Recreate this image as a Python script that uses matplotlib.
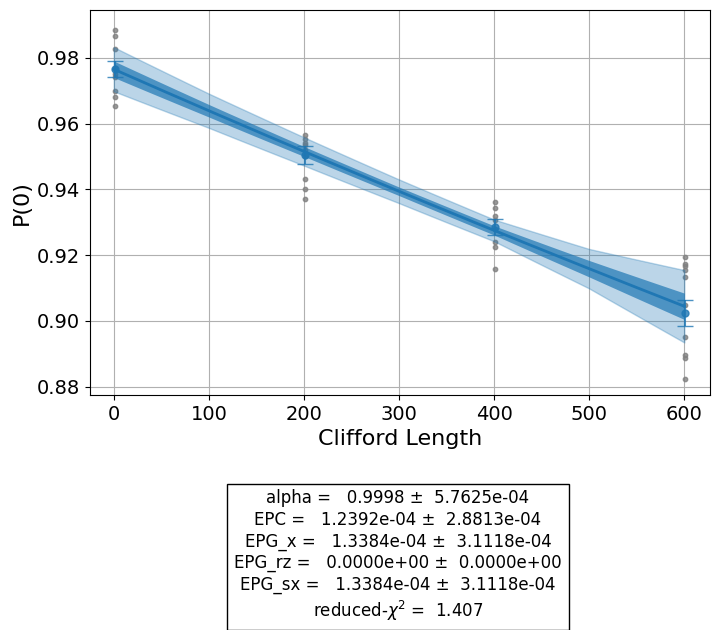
import numpy as np
import matplotlib
matplotlib.use("Agg")
import matplotlib.pyplot as plt

# raw samples
x0 = [1]*9; y0 = [0.9885, 0.9867, 0.9827, 0.977, 0.975, 0.974, 0.970, 0.9682, 0.9652]
x1 = [201]*9; y1 = [0.9565, 0.9552, 0.954, 0.9534, 0.952, 0.950, 0.943, 0.940, 0.937]
x2 = [401]*8; y2 = [0.9361, 0.9342, 0.932, 0.9306, 0.928, 0.9240, 0.9224, 0.9157]
x3 = [601]*10; y3 = [0.9194, 0.9174, 0.9168, 0.9155, 0.9135, 0.905, 0.8952, 0.8896, 0.8886, 0.8825]
# averages
mean_x = [1, 201, 401, 601]
mean_y = [0.9765, 0.9505, 0.9285, 0.9025]
mean_err = [0.0025, 0.0027, 0.0025, 0.004]
# fit parameters  A*alpha^x + B
A, alpha, B = 0.637, 0.99980, 0.3395
band_x = [0, 100, 200, 300, 400, 500, 600]
band_light = [0.0067, 0.0052, 0.0043, 0.0036, 0.0033, 0.006, 0.011]
band_dark = [0.0025, 0.0019, 0.0015, 0.0013, 0.0014, 0.0025, 0.004]

fig = plt.figure(figsize=(7.18, 6.3), dpi=100)
ax = fig.add_axes([90/718, 1-395/630, 620/718, 385/630])
for xs, ys in [(x0, y0), (x1, y1), (x2, y2), (x3, y3)]:
    ax.scatter(xs, ys, s=10, color="gray", alpha=0.8, zorder=2)
xf = np.linspace(0, 600, 300)
yf = A*alpha**xf + B
lw = np.interp(xf, band_x, band_light)
dw = np.interp(xf, band_x, band_dark)
ax.fill_between(xf, yf-lw, yf+lw, color="#1f77b4", alpha=0.3, lw=1, zorder=3)
ax.fill_between(xf, yf-dw, yf+dw, color="#1f77b4", alpha=0.7, lw=0, zorder=3)
ax.plot(xf, yf, color="#1f77b4", lw=2, zorder=4)
ax.errorbar(mean_x, mean_y, yerr=mean_err, fmt="o", ms=5, color="#1f77b4", capsize=6, zorder=5, alpha=0.8)
ax.set_xlim(-25, 627)
ax.set_ylim(0.8775, 0.9945)
ax.set_yticks([0.88, 0.90, 0.92, 0.94, 0.96, 0.98])
ax.grid(True, color="#b0b0b0")
ax.set_axisbelow(True)
ax.tick_params(labelsize=14)
ax.set_xlabel("Clifford Length", fontsize=16)
ax.set_ylabel("P(0)", fontsize=16)
txt = ("alpha =   0.9998 ±  5.7625e-04\nEPC =   1.2392e-04 ±  2.8813e-04\n"
       "EPG_x =   1.3384e-04 ±  3.1118e-04\nEPG_rz =   0.0000e+00 ±  0.0000e+00\n"
       "EPG_sx =   1.3384e-04 ±  3.1118e-04\nreduced-$\\chi^2$ =  1.407")
fig.text(398/718, 1-556/630, txt, ha="center", va="center", fontsize=12, linespacing=1.25,
         bbox=dict(facecolor="white", edgecolor="black", pad=5))
fig.savefig("out.png", dpi=100)
